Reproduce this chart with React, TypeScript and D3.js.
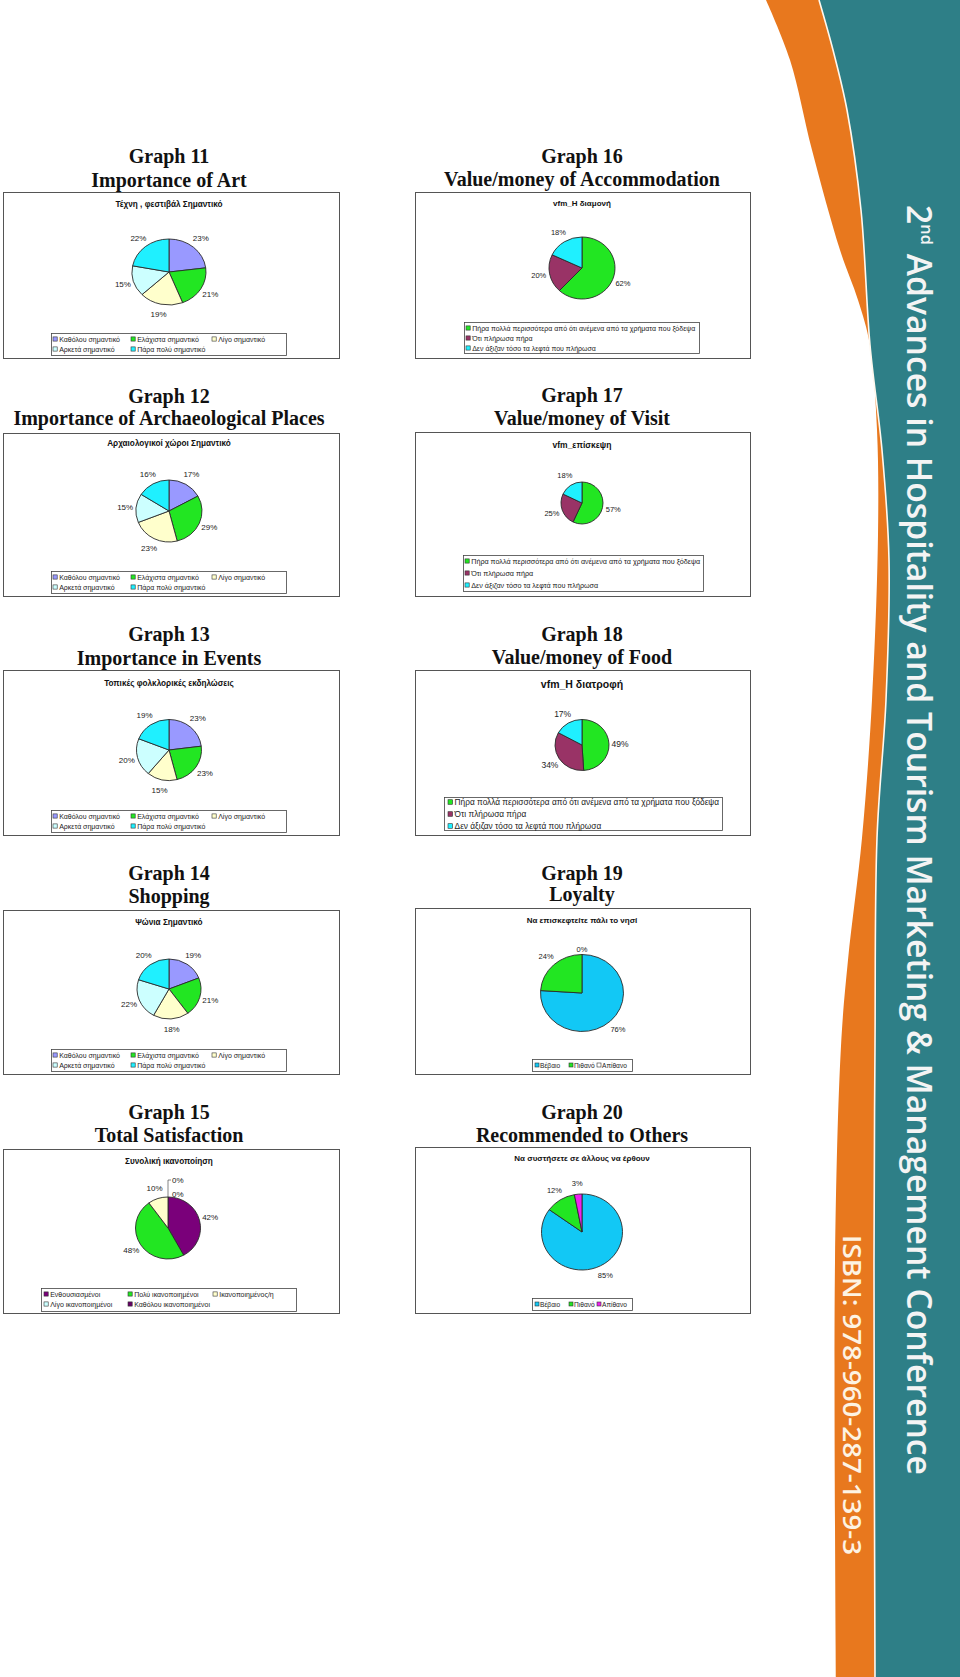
import React from "react";
import * as d3 from "d3";

// ---------- DATA ----------
const importanceCategories = [
  "Καθόλου σημαντικό",
  "Ελάχιστα σημαντικό",
  "Λίγο σημαντικό",
  "Αρκετά σημαντικό",
  "Πάρα πολύ σημαντικό",
];
const artValues = [23, 21, 19, 15, 22];
const archaeologyValues = [17, 29, 23, 15, 16];
const eventsValues = [23, 23, 15, 20, 19];
const shoppingValues = [19, 21, 18, 22, 20];

const satisfactionCategories = [
  "Ενθουσιασμένοι",
  "Πολύ ικανοποιημένοι",
  "Ικανοποιημένος/η",
  "Λίγο ικανοποιημένοι",
  "Καθόλου ικανοποιημένοι",
];
const satisfactionValues = [42, 48, 10, 0, 0];

const vfmCategories = [
  "Πήρα πολλά περισσότερα από ότι ανέμενα από τα χρήματα που ξόδεψα",
  "Ότι πλήρωσα πήρα",
  "Δεν άξιζαν τόσο τα λεφτά που πλήρωσα",
];
const accommodationValues = [62, 20, 18];
const visitValues = [57, 25, 18];
const foodValues = [49, 34, 17];

const likelihoodCategories = ["Βέβαιο", "Πιθανό", "Απίθανο"];
const loyaltyValues = [76, 24, 0];
const recommendValues = [85, 12, 3];

// ---------- STYLE ----------
const C = {
  peri: "#9999ff",
  green: "#22e622",
  yellow: "#ffffcc",
  lcyan: "#ccffff",
  cyan: "#1ff0ff",
  maroon: "#993366",
  sky: "#12c8f5",
  magenta: "#ee22ee",
  purple: "#7a007a",
  dpurple: "#660066",
  white: "#ffffff",
};
const importanceColors = [C.peri, C.green, C.yellow, C.lcyan, C.cyan];
const satisfactionColors = [C.purple, C.green, C.yellow, C.lcyan, C.dpurple];
const vfmColors = [C.green, C.maroon, C.cyan];
const loyaltyColors = [C.sky, C.green, C.white];
const recommendColors = [C.sky, C.green, C.magenta];

type Spec = {
  graph: string;
  title: string;
  subtitle: string;
  subSize: number;
  subY: number;
  categories: string[];
  values: number[];
  colors: string[];
  colX: number;
  titleY: [number, number];
  box: [number, number, number, number];
  pie: [number, number, number, number];
  labelSize: number;
  legend: {
    box: [number, number, number, number];
    colX: number[];
    rowY: number[];
    perRow: number;
    size: number;
    sq: number;
    gap: number;
  };
  zeroStyle?: "leader" | "top";
};

const LEFT = 169;
const RIGHT = 582;

const specs: Spec[] = [
  {
    graph: "Graph 11", title: "Importance of Art", subtitle: "Τέχνη , φεστιβάλ Σημαντικό", subSize: 8.2, subY: 204,
    categories: importanceCategories, values: artValues, colors: importanceColors, colX: LEFT,
    titleY: [163, 187], box: [3, 192, 339, 358], pie: [169, 272, 37, 33], labelSize: 8,
    legend: { box: [51, 333, 286, 355], colX: [53, 131, 212], rowY: [339, 349], perRow: 3, size: 7, sq: 4.2, gap: 2 },
  },
  {
    graph: "Graph 12", title: "Importance of Archaeological Places", subtitle: "Αρχαιολογικοί χώροι Σημαντικό", subSize: 8.2, subY: 443,
    categories: importanceCategories, values: archaeologyValues, colors: importanceColors, colX: LEFT,
    titleY: [403, 425], box: [3, 433, 339, 596], pie: [169, 511, 33, 31], labelSize: 8,
    legend: { box: [51, 571, 286, 593], colX: [53, 131, 212], rowY: [577, 587], perRow: 3, size: 7, sq: 4.2, gap: 2 },
  },
  {
    graph: "Graph 13", title: "Importance in Events", subtitle: "Τοπικές φολκλορικές εκδηλώσεις", subSize: 8.2, subY: 683,
    categories: importanceCategories, values: eventsValues, colors: importanceColors, colX: LEFT,
    titleY: [641, 665], box: [3, 670, 339, 835], pie: [169, 750, 32.5, 30.5], labelSize: 8,
    legend: { box: [51, 810, 286, 832], colX: [53, 131, 212], rowY: [816, 826], perRow: 3, size: 7, sq: 4.2, gap: 2 },
  },
  {
    graph: "Graph 14", title: "Shopping", subtitle: "Ψώνια Σημαντικό", subSize: 8.2, subY: 922,
    categories: importanceCategories, values: shoppingValues, colors: importanceColors, colX: LEFT,
    titleY: [880, 903], box: [3, 910, 339, 1074], pie: [169, 989, 32, 30], labelSize: 8,
    legend: { box: [51, 1049, 286, 1071], colX: [53, 131, 212], rowY: [1055, 1065], perRow: 3, size: 7, sq: 4.2, gap: 2 },
  },
  {
    graph: "Graph 15", title: "Total Satisfaction", subtitle: "Συνολική ικανοποίηση", subSize: 8.2, subY: 1161,
    categories: satisfactionCategories, values: satisfactionValues, colors: satisfactionColors, colX: LEFT,
    titleY: [1119, 1142], box: [3, 1149, 339, 1313], pie: [168, 1228, 32.5, 31], labelSize: 8,
    legend: { box: [41, 1288, 296, 1311], colX: [44, 128, 213], rowY: [1294, 1304], perRow: 3, size: 7, sq: 4.2, gap: 2 },
    zeroStyle: "leader",
  },
  {
    graph: "Graph 16", title: "Value/money of Accommodation", subtitle: "vfm_Η διαμονή", subSize: 8, subY: 203,
    categories: vfmCategories, values: accommodationValues, colors: vfmColors, colX: RIGHT,
    titleY: [163, 186], box: [415, 192, 750, 358], pie: [582, 268, 33, 31], labelSize: 7.5,
    legend: { box: [464, 322, 699, 353], colX: [466], rowY: [328, 338, 348], perRow: 1, size: 7, sq: 4.2, gap: 2 },
  },
  {
    graph: "Graph 17", title: "Value/money of Visit", subtitle: "vfm_επίσκεψη", subSize: 8.5, subY: 445,
    categories: vfmCategories, values: visitValues, colors: vfmColors, colX: RIGHT,
    titleY: [402, 425], box: [415, 432, 750, 596], pie: [582, 503, 21, 21], labelSize: 7.5,
    legend: { box: [463, 555, 703, 591], colX: [465], rowY: [561, 573, 585], perRow: 1, size: 7.2, sq: 4.2, gap: 2 },
  },
  {
    graph: "Graph 18", title: "Value/money of Food", subtitle: "vfm_Η διατροφή", subSize: 10.5, subY: 684,
    categories: vfmCategories, values: foodValues, colors: vfmColors, colX: RIGHT,
    titleY: [641, 664], box: [415, 670, 750, 835], pie: [582, 745, 27, 25.5], labelSize: 8.5,
    legend: { box: [444, 797, 722, 830], colX: [448], rowY: [802, 814, 826], perRow: 1, size: 8.3, sq: 4.6, gap: 2 },
  },
  {
    graph: "Graph 19", title: "Loyalty", subtitle: "Να επισκεφτείτε πάλι το νησί", subSize: 8, subY: 920,
    categories: likelihoodCategories, values: loyaltyValues, colors: loyaltyColors, colX: RIGHT,
    titleY: [880, 901], box: [415, 908, 750, 1074], pie: [582, 993, 41.5, 38.5], labelSize: 7.5,
    legend: { box: [532, 1059, 632, 1071], colX: [535, 569, 597], rowY: [1065], perRow: 3, size: 6.6, sq: 4, gap: 1 },
    zeroStyle: "top",
  },
  {
    graph: "Graph 20", title: "Recommended to Others", subtitle: "Να συστήσετε σε άλλους να έρθουν", subSize: 8, subY: 1158,
    categories: likelihoodCategories, values: recommendValues, colors: recommendColors, colX: RIGHT,
    titleY: [1119, 1142], box: [415, 1147, 750, 1313], pie: [582, 1232, 40.5, 38], labelSize: 7.5,
    legend: { box: [532, 1298, 632, 1310], colX: [535, 569, 597], rowY: [1304], perRow: 3, size: 6.6, sq: 4, gap: 1 },
  },
];

const SANS = "'Liberation Sans', Arial, sans-serif";
const SERIF = "'Liberation Serif', 'Times New Roman', serif";

function PieChart({ s }: { s: Spec }) {
  const [cx, cy, rx, ry] = s.pie;
  const arcs = d3.pie<number>().sort(null).value((d) => d)(s.values);
  const arc = d3.arc<d3.PieArcDatum<number>>().innerRadius(0).outerRadius(rx);
  const [bx0, by0, bx1, by1] = s.box;
  const [lx0, ly0, lx1, ly1] = s.legend.box;
  const off = 11;
  let zeroCount = 0;
  const zeroTotal = s.values.filter((v) => v === 0).length;
  return (
    <g>
      <text x={s.colX} y={s.titleY[0]} textAnchor="middle" fontFamily={SERIF} fontWeight="bold" fontSize={20} fill="#111">
        {s.graph}
      </text>
      <text x={s.colX} y={s.titleY[1]} textAnchor="middle" fontFamily={SERIF} fontWeight="bold" fontSize={20} fill="#111">
        {s.title}
      </text>
      <rect x={bx0 + 0.5} y={by0 + 0.5} width={bx1 - bx0} height={by1 - by0} fill="#fff" stroke="#555" strokeWidth={1} />
      <text x={s.colX} y={s.subY} textAnchor="middle" dominantBaseline="central" fontFamily={SANS} fontWeight="bold" fontSize={s.subSize} fill="#111">
        {s.subtitle}
      </text>
      <g transform={`translate(${cx},${cy}) scale(1,${ry / rx})`}>
        {arcs.map((d, i) =>
          d.value > 0 ? (
            <path key={i} d={arc(d) || ""} fill={s.colors[i]} stroke="#2a2a2a" strokeWidth={0.9} vectorEffect="non-scaling-stroke" />
          ) : null
        )}
      </g>
      {arcs.map((d, i) => {
        const label = `${d.value}%`;
        if (d.value === 0) {
          const k = zeroCount++;
          if (s.zeroStyle === "leader") {
            const top = cy - ry;
            if (k === zeroTotal - 1 && zeroTotal > 1) {
              const ty = top - 3 - 14 * k;
              return (
                <g key={i}>
                  <polyline points={`${cx},${top} ${cx},${ty} ${cx + 3},${ty}`} fill="none" stroke="#333" strokeWidth={0.6} />
                  <text x={cx + 4} y={ty} dominantBaseline="central" fontFamily={SANS} fontSize={s.labelSize} fill="#222">{label}</text>
                </g>
              );
            }
            return (
              <text key={i} x={cx + 4} y={top - 3 - 14 * k} dominantBaseline="central" fontFamily={SANS} fontSize={s.labelSize} fill="#222">{label}</text>
            );
          }
          return (
            <text key={i} x={cx} y={cy - ry - 5} textAnchor="middle" dominantBaseline="central" fontFamily={SANS} fontSize={s.labelSize} fill="#222">{label}</text>
          );
        }
        const mid = (d.startAngle + d.endAngle) / 2;
        const x = cx + Math.sin(mid) * (rx + off);
        const y = cy - Math.cos(mid) * (ry + off);
        return (
          <text key={i} x={x} y={y} textAnchor="middle" dominantBaseline="central" fontFamily={SANS} fontSize={s.labelSize} fill="#222">
            {label}
          </text>
        );
      })}
      <rect x={lx0 + 0.5} y={ly0 + 0.5} width={lx1 - lx0} height={ly1 - ly0} fill="#fff" stroke="#444" strokeWidth={0.8} />
      {s.categories.map((c, i) => {
        const x = s.legend.colX[i % s.legend.perRow];
        const y = s.legend.rowY[Math.floor(i / s.legend.perRow)];
        const q = s.legend.sq;
        return (
          <g key={c + i}>
            <rect x={x} y={y - q / 2} width={q} height={q} fill={s.colors[i]} stroke="#333" strokeWidth={0.6} />
            <text x={x + q + s.legend.gap} y={y} dominantBaseline="central" fontFamily={SANS} fontSize={s.legend.size} fill="#222">
              {c}
            </text>
          </g>
        );
      })}
    </g>
  );
}

// banner outline points (decoration)
const tealEdge: [number, number][] = [
  [819, 0], [833, 50], [847, 110], [861, 210], [870, 345], [882, 450], [889, 560],
  [886, 700], [877, 838], [875, 1046], [874, 1262], [875, 1677],
];
const orangeEdge: [number, number][] = [
  [766, 0], [790, 60], [812, 150], [840, 250], [858, 300], [870, 345], [877, 430],
  [878, 535], [872, 700], [862, 838], [848, 960], [841, 1046], [835, 1262], [836, 1677],
];

export default function App() {
  const line = d3.line().curve(d3.curveCatmullRom.alpha(0.5));
  const tealPath = line(tealEdge) + " L960,1677 L960,0 Z";
  const orangePath = line(orangeEdge) + " L960,1677 L960,0 Z";
  const edgePath = line(tealEdge) || "";
  return (
    <svg width={960} height={1677} viewBox="0 0 960 1677" style={{ position: "absolute", left: 0, top: 0, display: "block", background: "#fff" }}>
      <rect x={0} y={0} width={960} height={1677} fill="#fff" />
      <path d={orangePath} fill="#e8781e" />
      <path d={tealPath} fill="#2e7f87" />
      <path d={edgePath} fill="none" stroke="#fff8ee" strokeWidth={1.6} />
      <text
        transform="translate(907,205) rotate(90)"
        fill="#f4f4f4"
        fontFamily="'Open Sans', 'DejaVu Sans', sans-serif"
        fontWeight={600}
        fontSize={35}
        textLength={1270}
        lengthAdjust="spacingAndGlyphs"
      >
        2<tspan fontSize={17} dy={-14}>nd</tspan><tspan dy={14}> Advances in Hospitality and Tourism Marketing &amp; Management Conference</tspan>
      </text>
      <text
        transform="translate(843,1235) rotate(90)"
        fill="#fdf3e3"
        fontFamily="'Open Sans', 'DejaVu Sans', sans-serif"
        fontWeight={600}
        fontSize={26}
        textLength={320}
        lengthAdjust="spacingAndGlyphs"
      >
        ISBN: 978-960-287-139-3
      </text>
      {specs.map((s) => (
        <PieChart key={s.graph} s={s} />
      ))}
    </svg>
  );
}
